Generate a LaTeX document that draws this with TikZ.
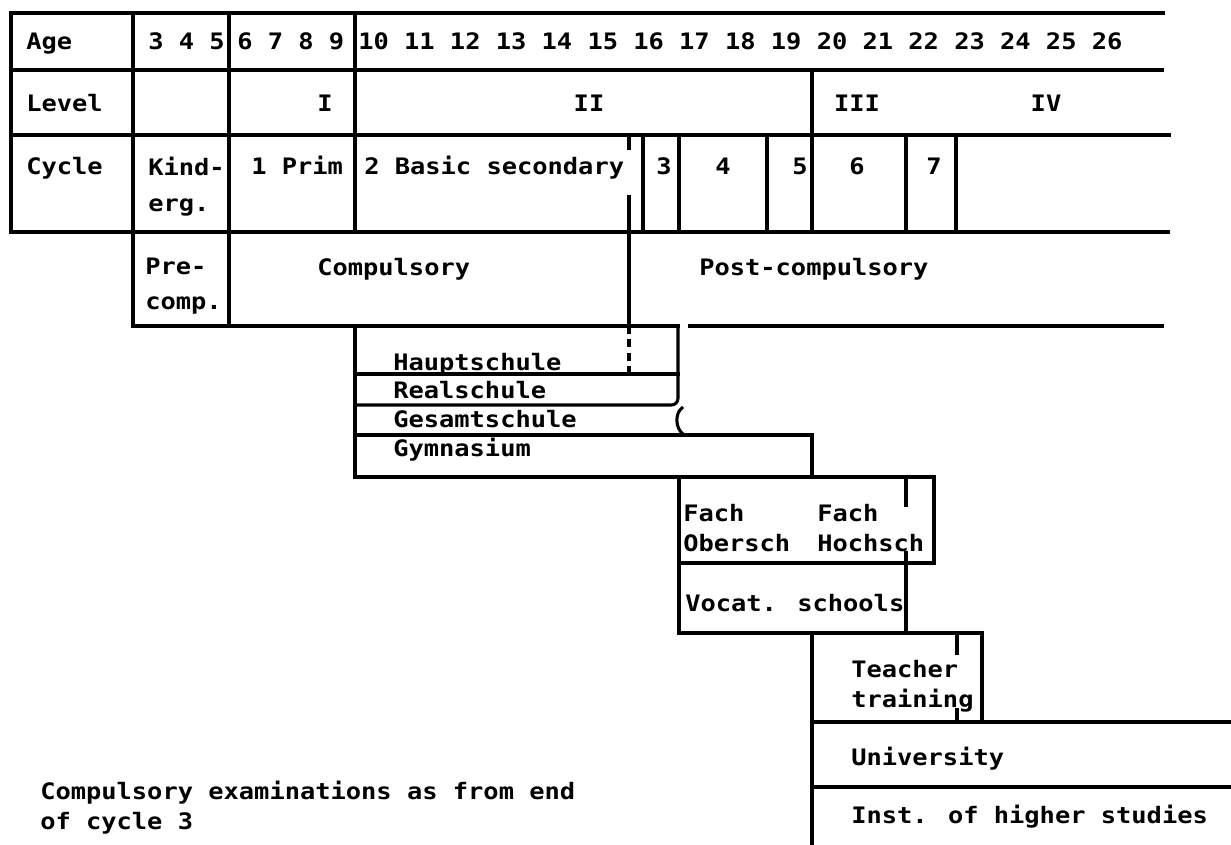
\documentclass[tikz,border=0pt]{standalone}
\usepackage{fontspec}
\newfontfamily\typefont{DejaVu Sans Mono Bold}[FakeStretch=1.12]
\usetikzlibrary{positioning}
\tikzset{
	rule/.style={
		line width=2.3pt,
		line cap=rect},
	dashrule/.style={
		line width=2.3pt,
		dash pattern=on 6pt off 4pt},
	lbl/.style={
		font=\typefont\fontsize{17pt}{22pt}\selectfont,
		inner sep=0pt,
		anchor=base west,
		align=left},
	clbl/.style={
		font=\typefont\fontsize{17pt}{22pt}\selectfont,
		inner sep=0pt,
		anchor=base}
}
\begin{document}
\begin{tikzpicture}[x=0.75pt,y=0.75pt,yscale=-1,xscale=1]
\useasboundingbox (0,0) rectangle (1231,845);
% table rows
\draw [rule] (11,13) -- (1163,13);
\draw [rule] (11,70) -- (1162,70);
\draw [rule] (11,135) -- (1169,135);
\draw [rule] (11,232) -- (1168,232);
% table columns
\draw [rule] (11,13) -- (11,232);
\draw [rule] (133,13) -- (133,326);
\draw [rule] (229,13) -- (229,326);
\draw [rule] (355,13) -- (355,232);
\draw [rule] (812,70) -- (812,232);
\draw [rule] (643,135) -- (643,232);
\draw [rule] (679,135) -- (679,232);
\draw [rule] (767,135) -- (767,232);
\draw [rule] (906,135) -- (906,232);
\draw [rule] (956,135) -- (956,232);
\draw [rule] (629,137) -- (629,148);
\draw [rule] (629,197) -- (629,326);
\draw [dashrule] (629,326) -- (629,374);
% compulsory row
\draw [rule] (133,326) -- (678,326);
\draw [rule] (690,326) -- (1162,326);
% school boxes
\draw [rule] (355,326) -- (355,477);
\draw [rule] (355,374) -- (678,374);
\draw [rule, rounded corners=5] (678,326) -- (678,405) -- (355,405);
\draw [rule] (682,408) .. controls (675,413) and (675,428) .. (683,434);
\draw [rule] (355,435) -- (812,435) -- (812,477);
\draw [rule] (355,477) -- (934,477) -- (934,563) -- (679,563);
\draw [rule] (679,477) -- (679,633) -- (982,633) -- (982,722);
\draw [rule] (906,477) -- (906,505);
\draw [rule] (906,553) -- (906,633);
\draw [rule] (957,635) -- (957,653);
\draw [rule] (957,710) -- (957,722);
\draw [rule] (812,633) -- (812,843);
\draw [rule] (812,722) -- (1231,722);
\draw [rule] (812,787) -- (1231,787);

% Text Node
\node [lbl] (age) at (26,50) {Age};
% Text Node
\node [lbl] (level) at (26,112) {Level};
% Text Node
\node [lbl] (cycle) at (26,175) {Cycle};
% Text Node
\node [lbl] (agea) at (148,50) {3 4 5};
% Text Node
\node [lbl] (ageb) at (237,50) {6 7 8 9};
% Text Node
\node [lbl] (agec) at (358,50) {10 11 12 13 14 15 16 17 18 19 20 21 22 23 24 25 26};
% Text Node
\node [clbl] (lvla) at (325,112) {I};
% Text Node
\node [clbl] (lvlb) at (589,112) {II};
% Text Node
\node [clbl] (lvlc) at (857,112) {III};
% Text Node
\node [clbl] (lvld) at (1046,112) {IV};
% Text Node
\node [lbl] (kinder) at (148,211) {Kind-\\[5pt]erg.};
% Text Node
\node [lbl] (prim) at (251,175) {1 Prim};
% Text Node
\node [lbl] (basic) at (364,175) {2 Basic secondary};
% Text Node
\node [clbl] (cyc3) at (664,175) {3};
% Text Node
\node [clbl] (cyc4) at (723,175) {4};
% Text Node
\node [clbl] (cyc5) at (800,175) {5};
% Text Node
\node [clbl] (cyc6) at (857,175) {6};
% Text Node
\node [clbl] (cyc7) at (934,175) {7};
% Text Node
\node [lbl] (precomp) at (145,309) {Pre-\\[4pt]comp.};
% Text Node
\node [lbl] (comp) at (317,275) {Compulsory};
% Text Node
\node [lbl] (postcomp) at (699,275) {Post-compulsory};
% Text Node
\node [lbl] (haupt) at (393,370) {Hauptschule};
% Text Node
\node [lbl] (real) at (393,398) {Realschule};
% Text Node
\node [lbl] (gesamt) at (393,427) {Gesamtschule};
% Text Node
\node [lbl] (gym) at (393,456) {Gymnasium};
% Text Node
\node [lbl] (fachober) at (683,551) {Fach\\Obersch};
% Text Node
\node [lbl] (fachhoch) at (817,551) {Fach\\Hochsch};
% Text Node
\node [lbl] (vocat) at (685,611) {Vocat. schools};
% Text Node
\node [lbl] (teacher) at (851,707) {Teacher\\training};
% Text Node
\node [lbl] (univ) at (851,765) {University};
% Text Node
\node [lbl] (inst) at (851,823) {Inst. of higher studies};
% Text Node
\node [lbl] (exams) at (40,829) {Compulsory examinations as from end\\of cycle 3};
\end{tikzpicture}
\end{document}
